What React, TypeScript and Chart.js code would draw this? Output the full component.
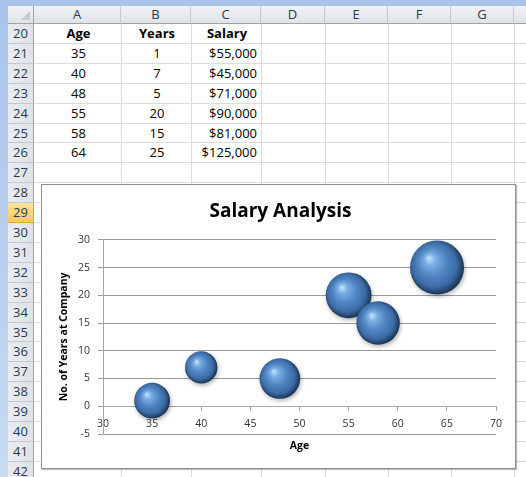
import React, { useEffect, useRef } from "react";
import { Chart, registerables } from "chart.js";

Chart.register(...registerables);

// ---- data ----
const ages = [35, 40, 48, 55, 58, 64];
const years = [1, 7, 5, 20, 15, 25];
const salaries = [55000, 45000, 71000, 90000, 81000, 125000];
const salaryLabels = ["$55,000", "$45,000", "$71,000", "$90,000", "$81,000", "$125,000"];
const tableHeaders = ["Age", "Years", "Salary"];
const columnLetters = ["A", "B", "C", "D", "E", "F", "G", "H"];
const rowNumbers = [20, 21, 22, 23, 24, 25, 26, 27, 28, 29, 30, 31, 32, 33, 34, 35, 36, 37, 38, 39, 40, 41, 42];
const chartTitle = "Salary Analysis";
const xTitle = "Age";
const yTitle = "No. of Years at Company";
const xMin = 30, xMax = 70, xStep = 5;
const yMin = -5, yMax = 30, yStep = 5;

// ---- sheet geometry ----
const colEdges = [34, 121, 191, 261, 325, 388, 451, 514, 600];
const rowTop = (i: number) => Math.round(24 + i * 19.9);
const FONT = "'Open Sans', 'Liberation Sans', sans-serif";
const maxBubbleR = 27;
const CANVAS_W = 481;
const CANVAS_H = 283;

function SalaryChart() {
  const ref = useRef<HTMLCanvasElement | null>(null);
  useEffect(() => {
    if (!ref.current) return;
    const maxSal = Math.max(...salaries);
    const points = ages.map((a, i) => ({ x: a, y: years[i], r: maxBubbleR * Math.sqrt(salaries[i] / maxSal) }));
    const shadowPlugin = {
      id: "bubbleShadow",
      beforeDatasetsDraw(chart: any) {
        const c = chart.ctx;
        c.save();
        c.shadowColor = "rgba(0,0,0,0.3)";
        c.shadowBlur = 4;
        c.shadowOffsetX = 1;
        c.shadowOffsetY = 2;
      },
      afterDatasetsDraw(chart: any) {
        chart.ctx.restore();
      },
    };
    const chart = new Chart(ref.current, {
      type: "bubble",
      data: {
        datasets: [
          {
            label: "Years",
            data: points,
            borderWidth: 0,
            clip: false as any,
            backgroundColor: (ctx: any) => {
              const flat = "#4f81bd";
              if (ctx.type !== "data" || !ctx.raw) return flat;
              const ch = ctx.chart;
              const sx = ch.scales && ch.scales.x, sy = ch.scales && ch.scales.y;
              if (!sx || !sy) return flat;
              const x = sx.getPixelForValue(ctx.raw.x);
              const y = sy.getPixelForValue(ctx.raw.y);
              const r = ctx.raw.r;
              if (!isFinite(x) || !isFinite(y) || !isFinite(r)) return flat;
              const g = ch.ctx.createRadialGradient(x - r * 0.3, y - r * 0.35, r * 0.02, x - r * 0.05, y - r * 0.05, r * 1.02);
              g.addColorStop(0, "#bfe2fb");
              g.addColorStop(0.2, "#79ade3");
              g.addColorStop(0.5, "#5086c4");
              g.addColorStop(0.8, "#3d6ca5");
              g.addColorStop(0.94, "#274a74");
              g.addColorStop(1, "#1d3856");
              return g;
            },
          } as any,
        ],
      },
      options: {
        animation: false,
        responsive: false,
        events: [],
        layout: { padding: { left: 16, right: 20, top: 0, bottom: 34 } },
        plugins: {
          legend: { display: false },
          tooltip: { enabled: false },
          title: {
            display: true,
            text: chartTitle,
            color: "#000",
            font: { family: FONT, size: 19, weight: "bold", lineHeight: 1.2 },
            padding: { top: 15, bottom: 17 },
          },
        },
        scales: {
          x: {
            type: "linear",
            position: { y: 0 } as any,
            min: xMin,
            max: xMax,
            afterFit: (s: any) => { s.paddingLeft = 0; s.paddingRight = 0; },
            ticks: { stepSize: xStep, color: "#333", font: { family: FONT, size: 10.5 }, padding: 7 },
            grid: { drawOnChartArea: false, drawTicks: true, tickLength: 4, color: "#a6a6a6" },
            border: { display: true, color: "#a6a6a6" },
            title: { display: true, text: xTitle, color: "#000", font: { family: FONT, size: 10.5, weight: "bold" }, padding: { top: 3, bottom: 0 } },
          },
          y: {
            type: "linear",
            min: yMin,
            max: yMax,
            afterFit: (s: any) => { s.width = 45; },
            ticks: { stepSize: yStep, color: "#333", font: { family: FONT, size: 10.5 }, padding: 8 },
            grid: { color: "#9a9a9a", drawTicks: true, tickLength: 5 },
            border: { display: true, color: "#a6a6a6" },
            title: { display: true, text: yTitle, color: "#000", font: { family: FONT, size: 10.5, weight: "bold" }, padding: { top: 0, bottom: 0 } },
          },
        },
      },
      plugins: [shadowPlugin],
    } as any);
    return () => chart.destroy();
  }, []);
  return <canvas ref={ref} width={CANVAS_W} height={CANVAS_H} style={{ width: CANVAS_W, height: CANVAS_H, display: "block" }} />;
}

export default function App() {
  const nodes: React.ReactNode[] = [];
  const W = 526, H = 477;
  colEdges.slice(1, -1).forEach((x, i) => {
    nodes.push(<div key={"vg" + i} style={{ position: "absolute", left: x, top: 24, width: 1, height: H - 24, background: "#dadcdd" }} />);
  });
  rowNumbers.forEach((_, i) => {
    const y = rowTop(i + 1) - 1;
    nodes.push(<div key={"hg" + i} style={{ position: "absolute", left: 34, top: y, width: W - 34, height: 1, background: "#dadcdd" }} />);
  });
  columnLetters.forEach((c, i) => {
    const l = colEdges[i], r = colEdges[i + 1];
    nodes.push(
      <div key={"ch" + c} style={{ position: "absolute", left: l, top: 6, width: r - l - 1, height: 17, background: "linear-gradient(#f0f2f5,#dfe3e8)", borderRight: "1px solid #c4c9cf", borderBottom: "1px solid #9ea4ab", color: "#2b3a4e", font: `13px ${FONT}`, textAlign: "center", lineHeight: "17px" }}>{c}</div>
    );
  });
  nodes.push(
    <div key="corner" style={{ position: "absolute", left: 8, top: 6, width: 25, height: 17, background: "linear-gradient(#f0f2f5,#dfe3e8)", borderRight: "1px solid #9ea4ab", borderBottom: "1px solid #9ea4ab" }}>
      <div style={{ position: "absolute", right: 3, bottom: 3, width: 0, height: 0, borderLeft: "9px solid transparent", borderBottom: "9px solid #c8ccd1" }} />
    </div>
  );
  rowNumbers.forEach((n, i) => {
    const t = rowTop(i), b = rowTop(i + 1);
    const sel = n === 29;
    nodes.push(
      <div key={"rh" + n} style={{ position: "absolute", left: 8, top: t, width: 25, height: b - t - 1, background: sel ? "linear-gradient(#fbe39a,#f6c95a)" : "linear-gradient(90deg,#e9ecf0,#dfe3e8)", borderRight: sel ? "1px solid #e0a83c" : "1px solid #9ea4ab", borderBottom: sel ? "1px solid #e0a83c" : "1px solid #c4c9cf", color: "#2b3a4e", font: `13px ${FONT}`, textAlign: "center", lineHeight: `${b - t - 1}px` }}>{n}</div>
    );
  });
  const cell = (key: string, col: number, row: number, text: string, align: "center" | "right", bold = false) => {
    const l = colEdges[col], r = colEdges[col + 1];
    const t = rowTop(row), b = rowTop(row + 1);
    nodes.push(
      <div key={key} style={{ position: "absolute", left: l, top: t, width: r - l - 4, paddingRight: align === "right" ? 3 : 0, paddingLeft: align === "center" ? 3 : 0, height: b - t - 1, lineHeight: `${b - t - 1}px`, textAlign: align, font: `${bold ? "bold " : ""}13px ${FONT}`, color: "#000", whiteSpace: "nowrap" }}>{text}</div>
    );
  };
  tableHeaders.forEach((h, i) => cell("h" + i, i, 0, h, "center", true));
  ages.forEach((a, i) => {
    cell("a" + i, 0, i + 1, String(a), "center");
    cell("y" + i, 1, i + 1, String(years[i]), "center");
    cell("s" + i, 2, i + 1, salaryLabels[i], "right");
  });

  return (
    <div style={{ position: "fixed", left: 0, top: 0, width: W, height: H, overflow: "hidden", background: "#fff" }}>
      <div style={{ position: "absolute", left: 0, top: 0, width: W, height: 6, background: "#a9c3eb" }} />
      <div style={{ position: "absolute", left: 0, top: 0, width: 8, height: H, background: "linear-gradient(#a9c3eb,#c9daf2)" }} />
      {nodes}
      <div style={{ position: "absolute", left: 41, top: 184, width: 475, height: 285, boxSizing: "border-box", border: "1px solid #8f8f8f", background: "#fff", boxShadow: "1px 1px 1px rgba(0,0,0,0.25)", overflow: "hidden" }}>
        <SalaryChart />
      </div>
    </div>
  );
}
